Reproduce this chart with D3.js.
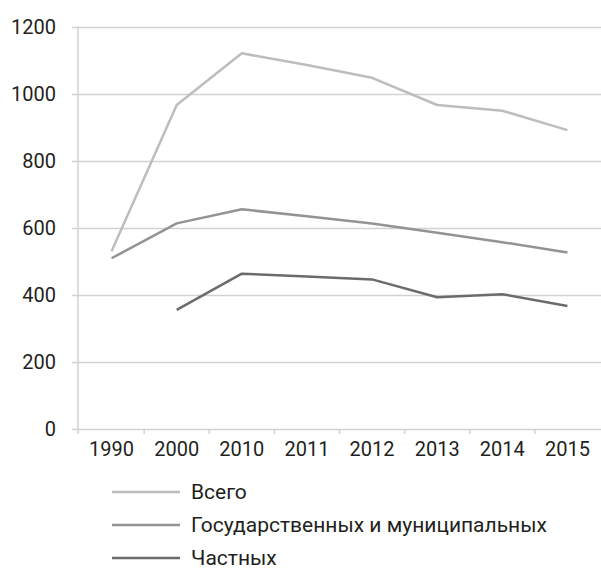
<!DOCTYPE html>
<html>
<head>
<meta charset="utf-8">
<script src="https://cdnjs.cloudflare.com/ajax/libs/d3/7.8.5/d3.min.js"></script>
<style>
  body { margin: 0; background: #fff; }
  svg text { font-family: Roboto, 'Open Sans', sans-serif; fill: #231f20; }
</style>
</head>
<body>
<div id="chart"></div>
<script>
const years = ['1990', '2000', '2010', '2011', '2012', '2013', '2014', '2015']
const yTicks = [0, 200, 400, 600, 800, 1000, 1200]

// null = no value for that year
const total   = [530, 966, 1120, 1085, 1047, 966, 949, 891]
const stateMun = [509, 613, 655, 634, 613, 585, 557, 526]
const privateS = [null, 355, 463, 455, 446, 393, 402, 367]

const seriesNames = ['Всего', 'Государственных и муниципальных', 'Частных']
const seriesData = [total, stateMun, privateS]
const colors = ['#bdbdbf', '#939395', '#6b6b6d']

const width = 601
const height = 569

const svg = d3.select('#chart')
              .append('svg')
                .attr('width', width)
                .attr('height', height)

const xScale = d3.scaleBand()
                  .domain(years)
                  .range([ 79, 600 ])

const yScale = d3.scaleLinear()
                  .domain([ 0, 1200 ])
                  .range([ 429, 26.5 ])

// horizontal grid
svg.append('g')
    .selectAll('line')
    .data(yTicks).enter()
    .append('line')
      .attr('x1', 72)
      .attr('x2', width)
      .attr('y1', d => Math.round(yScale(d)) + 0.5)
      .attr('y2', d => Math.round(yScale(d)) + 0.5)
      .attr('stroke', '#d2d2d2')
      .attr('stroke-width', 1.5)

// y axis line
svg.append('line')
    .attr('x1', 78).attr('x2', 78)
    .attr('y1', yScale(1200)).attr('y2', yScale(0) + 5)
    .attr('stroke', '#d2d2d2')
    .attr('stroke-width', 1.5)

svg.append('g')
    .selectAll('text')
    .data(yTicks).enter()
    .append('text')
      .text(d => d)
      .attr('x', 56)
      .attr('y', d => yScale(d))
      .attr('dy', '0.36em')
      .attr('text-anchor', 'end')
      .attr('font-size', 20)

// x axis: ticks between categories
const bounds = years.map(y => xScale(y))
svg.append('g')
    .selectAll('line')
    .data(bounds.slice(1)).enter()
    .append('line')
      .attr('x1', d => d).attr('x2', d => d)
      .attr('y1', yScale(0)).attr('y2', yScale(0) + 5)
      .attr('stroke', '#d2d2d2')
      .attr('stroke-width', 1.5)

svg.append('g')
    .selectAll('text')
    .data(years).enter()
    .append('text')
      .text(d => d)
      .attr('x', d => xScale(d) + xScale.bandwidth() / 2)
      .attr('y', 456)
      .attr('text-anchor', 'middle')
      .attr('font-size', 20)

const line = d3.line()
                .defined(d => d.v !== null)
                .x(d => xScale(d.year) + xScale.bandwidth() / 2)
                .y(d => yScale(d.v))

seriesData.forEach((vals, i) => {
  svg.append('path')
      .datum(years.map((y, j) => ({ year: y, v: vals[j] })))
      .attr('d', line)
      .attr('fill', 'none')
      .attr('stroke', colors[i])
      .attr('stroke-width', 2.5)
      .attr('stroke-linejoin', 'round')
})

// legend
const legend = svg.append('g').attr('id', 'legend')
const legendY = d3.scalePoint().domain(seriesNames).range([ 492, 558 ])

legend.selectAll('line')
        .data(seriesNames).enter()
        .append('line')
          .attr('x1', 112).attr('x2', 180)
          .attr('y1', d => legendY(d)).attr('y2', d => legendY(d))
          .attr('stroke', (d, i) => colors[i])
          .attr('stroke-width', 2.5)

legend.selectAll('text')
        .data(seriesNames).enter()
        .append('text')
          .text(d => d)
          .attr('x', 191)
          .attr('y', d => legendY(d) + 6.5)
          .attr('font-size', 21)
</script>
</body>
</html>
